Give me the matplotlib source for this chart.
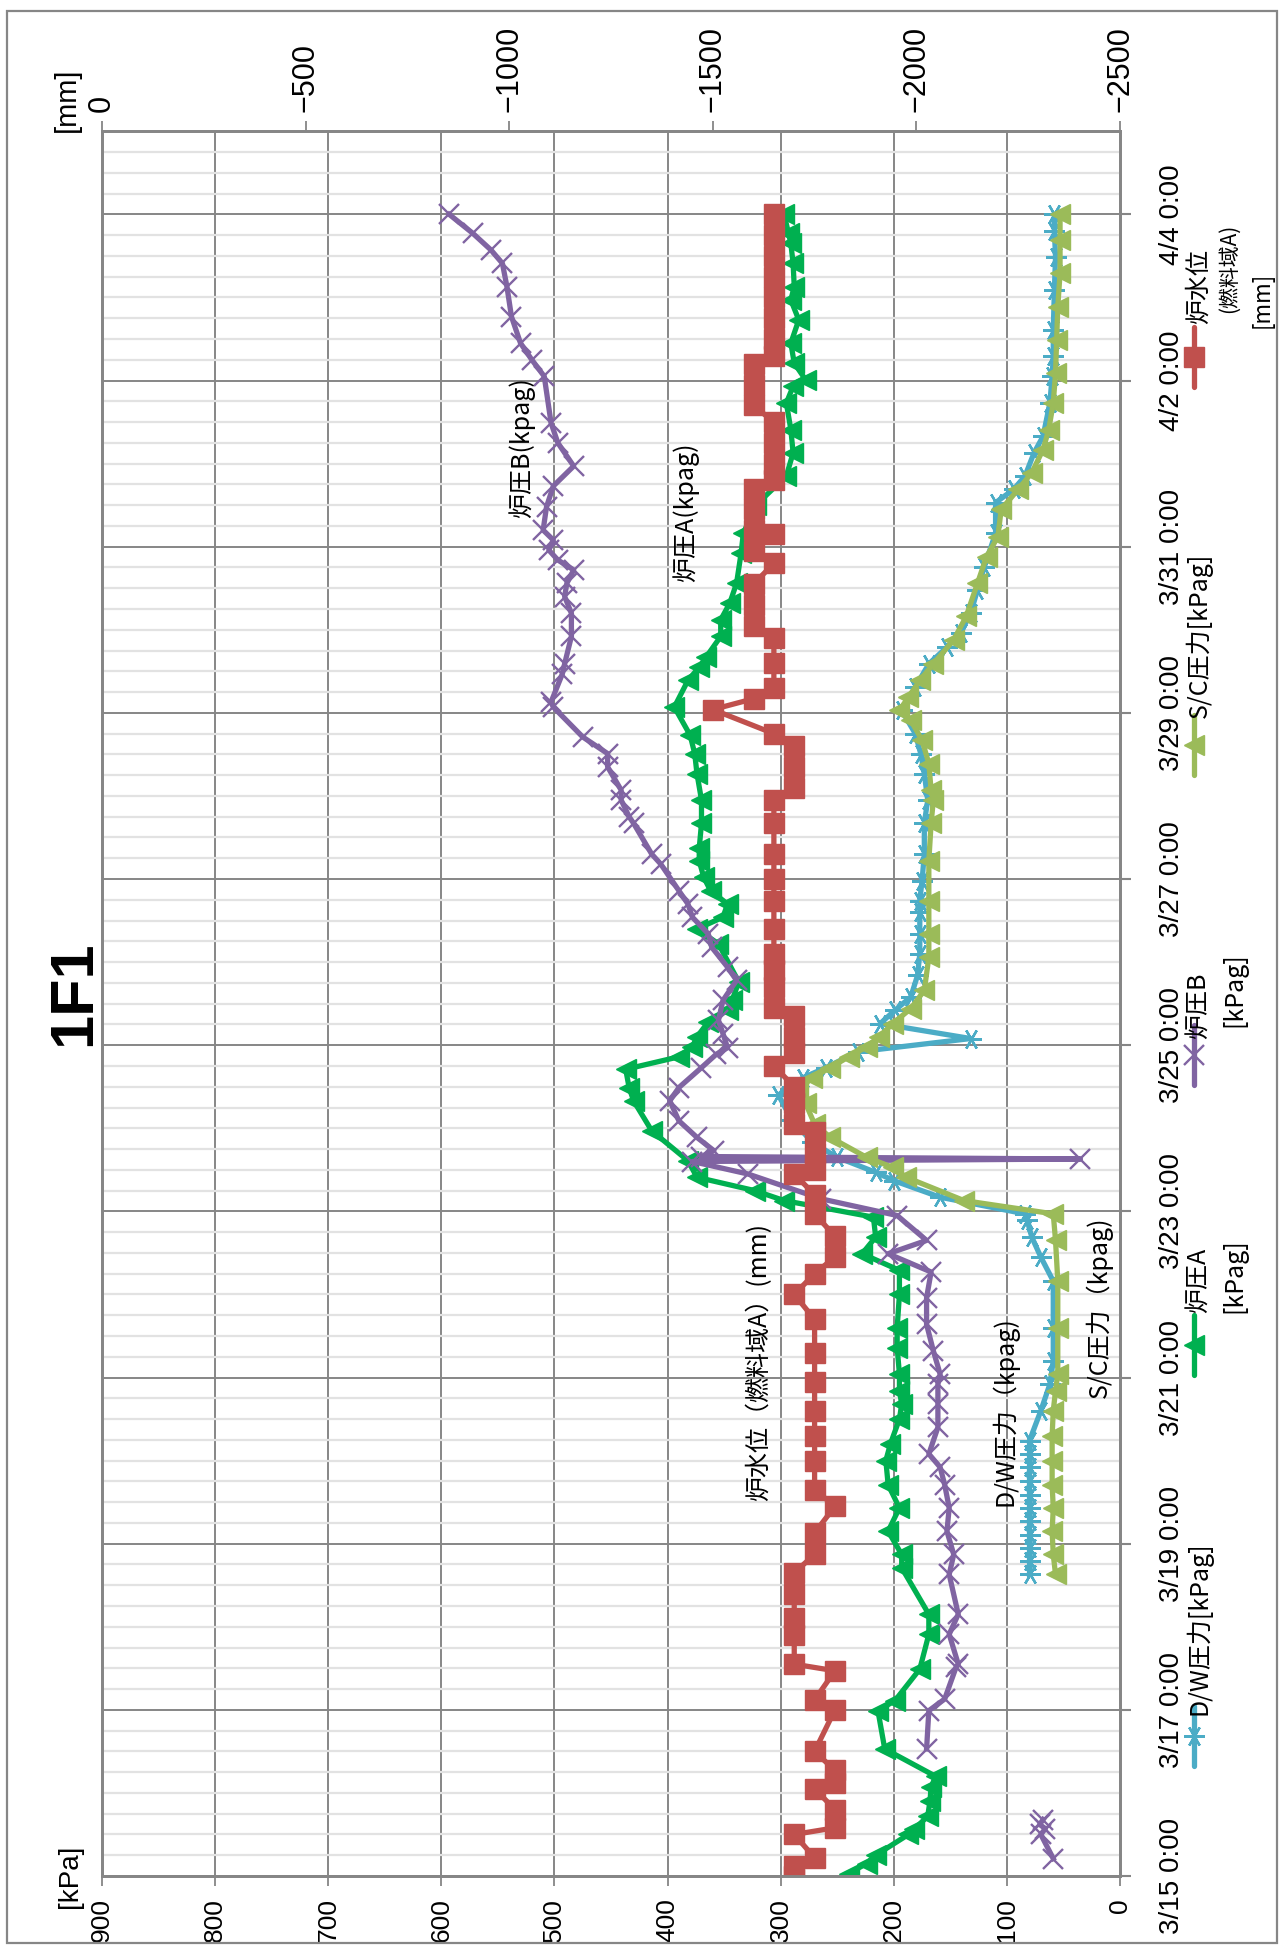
import numpy as np
import pandas as pd
import matplotlib
matplotlib.use("Agg")
import matplotlib.pyplot as plt
import matplotlib.dates as mdates
from matplotlib.ticker import FixedLocator, FuncFormatter
from matplotlib.lines import Line2D
from matplotlib.patches import Rectangle

plt.rcParams['font.family'] = ['Noto Sans CJK JP', 'DejaVu Sans']
NUM_FONT = ['Liberation Sans Narrow', 'Liberation Sans', 'DejaVu Sans']

START = pd.Timestamp('2011-03-15 00:00')

# ---- readings: elapsed days from 3/15 0:00 and values ----
dw_days = [3.63, 3.79, 3.95, 4.11, 4.27, 4.43, 4.59, 4.75, 4.92, 5.08, 5.24, 5.6, 5.92, 6.2,
           6.6, 7.16, 7.45, 7.69, 7.89, 7.97, 8.17, 8.37, 8.47, 8.65, 8.83, 9.1, 9.4, 9.61,
           9.73, 9.92, 10.08, 10.26, 10.42, 10.58, 10.84, 11.1, 11.34, 11.6, 11.74, 11.98,
           12.3, 12.67, 12.95, 13.27, 13.5, 13.75, 14.03, 14.31, 14.59, 14.79, 14.96, 15.2,
           15.48, 15.76, 16.16, 16.53, 16.69, 16.85, 17.13, 17.33, 17.73, 18.05, 18.3, 18.61,
           19.09, 19.49, 19.8, 20.0]
dw_kpa = [80, 80, 80, 80, 80, 80, 80, 80, 80, 80, 80, 70, 62, 59,
          59, 59, 70, 78, 82, 84, 159, 200, 216, 250, 272, 290, 302, 280,
          260, 232, 132, 212, 199, 185, 179, 177, 177, 177, 177, 175,
          173, 173, 170, 173, 176, 181, 193, 181, 169, 153, 141, 132,
          126, 120, 110, 110, 94, 84, 76, 68, 62, 60, 59, 59,
          58, 57, 58, 58]

rpa_days = [0.03, 0.15, 0.25, 0.5, 0.56, 0.72, 0.9, 1.07, 1.2, 1.53, 1.99, 2.11, 2.49, 2.91,
            3.15, 3.71, 3.87, 4.15, 4.43, 4.71, 5.0, 5.2, 5.5, 5.68, 5.84, 6.04, 6.36, 6.6,
            7.0, 7.29, 7.49, 7.69, 7.93, 8.13, 8.25, 8.41, 8.61, 8.97, 9.33, 9.49, 9.71,
            9.86, 9.98, 10.1, 10.28, 10.42, 10.54, 10.76, 11.22, 11.4, 11.54, 11.7, 11.86,
            12.02, 12.22, 12.37, 12.67, 12.95, 13.27, 13.51, 13.73, 14.07, 14.39, 14.55,
            14.67, 14.92, 15.12, 15.32, 15.56, 15.92, 16.16, 16.5, 16.85, 17.13, 17.41,
            17.73, 17.93, 18.01, 18.21, 18.45, 18.73, 18.97, 19.13, 19.41, 19.65, 19.77, 20.0]
rpa_kpa = [240, 224, 216, 187, 182, 170, 168, 167, 163, 208, 214, 199, 177, 169,
           169, 193, 193, 205, 195, 205, 207, 203, 195, 193, 195, 195, 197, 197,
           195, 195, 228, 216, 218, 297, 323, 374, 382, 414, 430, 434, 437,
           390, 378, 374, 364, 347, 343, 337, 355, 374, 351, 347, 362,
           368, 372, 372, 370, 370, 374, 376, 380, 394, 382, 372,
           366, 353, 353, 345, 339, 335, 333, 322, 295, 289, 291,
           295, 289, 278, 288, 291, 284, 291, 288, 289, 291, 293, 297]

rpb_days = [0.21, 0.5, 0.57, 0.62, 0.68, 1.0, 1.53, 1.99, 2.13, 2.51, 2.55, 2.91, 3.15, 3.63,
            3.87, 4.15, 4.43, 4.71, 4.92, 5.08, 5.4, 5.68, 5.92, 6.04, 6.32, 6.64, 6.96,
            7.27, 7.49, 7.65, 7.95, 8.15, 8.45, 8.6, 8.63, 8.66, 8.73, 8.89, 9.09, 9.33,
            9.49, 9.73, 9.89, 9.97, 10.14, 10.3, 10.54, 10.78, 10.94, 11.18, 11.34, 11.54,
            11.7, 11.86, 12.18, 12.3, 12.67, 12.75, 12.95, 13.07, 13.35, 13.51, 13.71, 14.07,
            14.13, 14.47, 14.59, 14.92, 15.2, 15.4, 15.56, 15.72, 15.84, 15.96, 16.08, 16.2,
            16.48, 16.73, 16.97, 17.25, 17.49, 18.05, 18.25, 18.45, 18.77, 19.13, 19.41,
            19.57, 19.77, 20.0]
rpb_kpa = [59, 70, 66, 71, 68, np.nan, 171, 169, 155, 145, 143, 151, 143, 151,
           147, 153, 151, 155, 159, 169, 161, 161, 161, 159, 165, 171, 171,
           167, 205, 171, 197, 264, 329, 378, 35, 370, 359, 374, 390, 398,
           390, 370, 357, 347, 351, 355, 351, 339, 347, 361, 364, 378,
           382, 390, 406, 414, 430, 434, 441, 441, 453, 453, 475, 501,
           503, 493, 491, 485, 485, 491, 489, 483, 497, 505, 501, 510,
           507, 501, 483, 497, 503, 509, 520, 530, 538, 542, 546,
           556, 572, 593]

sc_days = [3.63, 3.87, 4.15, 4.43, 4.71, 5.0, 5.3, 5.6, 5.84, 6.04, 6.6, 7.16, 7.65, 7.97,
           8.13, 8.41, 8.53, 8.65, 8.89, 9.05, 9.3, 9.45, 9.61, 9.73, 9.86, 9.98, 10.1,
           10.26, 10.44, 10.66, 11.06, 11.34, 11.74, 12.22, 12.67, 12.95, 13.07, 13.39,
           13.67, 13.91, 14.03, 14.19, 14.39, 14.59, 14.88, 15.16, 15.56, 15.88, 16.12,
           16.45, 16.69, 16.89, 17.17, 17.41, 17.73, 18.09, 18.49, 18.89, 19.29, 19.69, 20.0]
sc_kpa = [57, 59, 60, 59, 60, 60, 60, 59, 57, 55, 55, 55, 57, 59,
          138, 189, 201, 224, 256, 270, 278, 285, 272, 256, 240, 224, 213,
          201, 185, 173, 169, 169, 169, 169, 167, 165, 167, 169,
          175, 185, 195, 187, 177, 165, 147, 136, 126, 118, 108,
          105, 90, 78, 68, 63, 59, 57, 56, 55, 53, 53, 53]

wl_days = [0.0, 0.12, 0.22, 0.5, 0.58, 0.8, 1.05, 1.12, 1.27, 1.5, 2.0, 2.12, 2.47, 2.55,
           2.9, 3.1, 3.4, 3.65, 3.87, 4.13, 4.45, 4.65, 5.0, 5.3, 5.6, 5.95, 6.3, 6.7,
           7.0, 7.25, 7.45, 7.7, 7.97, 8.2, 8.45, 8.5, 8.7, 8.95, 9.05, 9.3, 9.5, 9.75,
           9.9, 10.1, 10.35, 10.45, 10.7, 10.9, 11.1, 11.4, 11.74, 12.0, 12.3, 12.67,
           12.95, 13.1, 13.35, 13.6, 13.75, 14.04, 14.17, 14.3, 14.6, 14.9, 15.05, 15.3,
           15.55, 15.8, 15.95, 16.15, 16.2, 16.45, 16.7, 16.8, 17.0, 17.25, 17.5, 17.7,
           17.95, 18.2, 18.3, 18.5, 18.75, 19.0, 19.25, 19.5, 19.75, 20.0]
wl_mm = [-1700, -1700, -1750, -1700, -1800, -1800, -1750, -1800, -1800, -1750, -1800, -1750, -1800, -1700,
         -1700, -1700, -1700, -1700, -1750, -1750, -1800, -1750, -1750, -1750, -1750, -1750, -1750, -1750,
         -1700, -1750, -1800, -1800, -1750, -1750, -1700, -1750, -1750, -1750, -1700, -1700, -1700, -1650,
         -1700, -1700, -1700, -1650, -1650, -1650, -1650, -1650, -1650, -1650, -1650, -1650,
         -1650, -1700, -1700, -1700, -1650, -1500, -1600, -1650, -1650, -1650, -1600, -1600,
         -1600, -1650, -1600, -1650, -1600, -1600, -1600, -1650, -1650, -1650, -1650, -1600,
         -1600, -1600, -1650, -1650, -1650, -1650, -1650, -1650, -1650, -1650]

kpa_ticks = list(range(0, 901, 100))
mm_ticks = list(range(0, -2501, -500))
date_tick_days = list(range(0, 21, 2))

COL_DW = '#4BACC6'
COL_RPA = '#00B050'
COL_RPB = '#8064A2'
COL_SC = '#9BBB59'
COL_WL = '#C0504D'
GRID = '#868686'
MINOR = '#e2e2e2'


def to_num(days):
    t = START + pd.to_timedelta(np.asarray(days, dtype=float), unit='D')
    return mdates.date2num(t.values)


W, H = 1279, 1954


def fx(px):
    return px / W


def fy(py):
    return 1 - py / H


fig = plt.figure(figsize=(W / 100, H / 100), dpi=100)
fig.patch.set_facecolor('white')

ax = fig.add_axes([fx(102), fy(1876), fx(1120) - fx(102), fy(131.3) - fy(1876)])
ax.set_axisbelow(True)

STYLES = {
    'dw': dict(color=COL_DW, lw=3.8, marker=(6, 2, 90), ms=15, mew=1.7),
    'rpa': dict(color=COL_RPA, lw=3.8, marker='<', ms=15),
    'rpb': dict(color=COL_RPB, lw=3.8, marker='x', ms=14, mew=1.7),
    'sc': dict(color=COL_SC, lw=3.8, marker='<', ms=15),
    'wl': dict(color=COL_WL, lw=3.8, marker='s', ms=14),
}

ax.plot(dw_kpa, to_num(dw_days), **STYLES['dw'])
ax.plot(rpa_kpa, to_num(rpa_days), **STYLES['rpa'])
ax.plot(rpb_kpa, to_num(rpb_days), **STYLES['rpb'])
ax.plot(sc_kpa, to_num(sc_days), **STYLES['sc'])

ax.set_xlim(900, 0)
ax.set_ylim(to_num([0])[0], to_num([21])[0])

ax.set_xticks(kpa_ticks)
ax.xaxis.tick_bottom()
ax.tick_params(axis='x', direction='out', length=7, width=1.3, color=GRID,
               pad=9, labelrotation=90, labelsize=19)

ax.yaxis.set_major_locator(FixedLocator(to_num(date_tick_days)))
ax.yaxis.set_minor_locator(FixedLocator(to_num(np.arange(0, 21.01, 0.25))))


def fmt_date(v, pos):
    d = mdates.num2date(v)
    return f"{d.month}/{d.day} {d.hour}:{d.minute:02d}"


ax.yaxis.set_major_formatter(FuncFormatter(fmt_date))
ax.yaxis.tick_right()
ax.tick_params(axis='y', which='major', direction='out', length=8, width=1.5,
               color=GRID, pad=20, labelrotation=90, labelsize=20)
ax.tick_params(axis='y', which='minor', length=0)
for lab in ax.get_yticklabels():
    lab.set_va('center')

ax.grid(which='major', axis='both', color=GRID, lw=1.4)
ax.grid(which='minor', axis='y', color=MINOR, lw=1.6)
ax.grid(which='minor', axis='x', visible=False)

for sp in ax.spines.values():
    sp.set_color(GRID)
    sp.set_linewidth(2)

# water level on the secondary (top) axis
ax2 = ax.twiny()
ax2.plot(wl_mm, to_num(wl_days), **STYLES['wl'])
ax2.set_xlim(0, -2500)
ax2.set_xticks(mm_ticks)
ax2.tick_params(axis='x', direction='out', length=7, width=1.3, color=GRID,
                pad=7, labelrotation=90, labelsize=22)
for sp in ax2.spines.values():
    sp.set_color(GRID)
    sp.set_linewidth(2)

for lab in ax.get_xticklabels() + ax2.get_xticklabels() + ax.get_yticklabels():
    lab.set_family(NUM_FONT)

# in-plot series labels
notes = [
    (529, 17.19, '炉圧B(kpag)'),
    (384, 16.42, '炉圧A(kpag)'),
    (318.7, 6.19, '炉水位（燃料域A）(mm)'),
    (101.7, 5.59, 'D/W圧力（kpag)'),
    (18.1, 6.84, 'S/C圧力（kpag)'),
]
for kx, dday, s in notes:
    ax.text(kx, to_num([dday])[0], s, rotation=90, ha='center', va='center', fontsize=18)

# title and unit captions
fig.text(fx(75), fy(993), '1F1', rotation=90, ha='center', va='center',
         fontsize=44, fontweight='bold', family=NUM_FONT)
fig.text(fx(70), fy(1876), '[kPa]', rotation=90, ha='center', va='center', fontsize=20,
         family=NUM_FONT)
fig.text(fx(67), fy(100), '[mm]', rotation=90, ha='center', va='center', fontsize=21,
         family=NUM_FONT)

# legend (rotated with the chart)
legend_items = [
    ('dw', 1736, [(1199, 1628, 'D/W圧力[kPag]', 18)]),
    ('rpa', 1345, [(1199, 1280, '炉圧A', 18), (1234, 1276, '[kPag]', 18)]),
    ('rpb', 1055, [(1199, 1006, '炉圧B', 18), (1234, 990, '[kPag]', 18)]),
    ('sc', 745, [(1199, 635, 'S/C圧力[kPag]', 18)]),
    ('wl', 357, [(1199, 286, '炉水位', 18), (1229, 268, '(燃料域A)', 15), (1262, 300, '[mm]', 16)]),
]
for key, ymark, texts in legend_items:
    st = dict(STYLES[key])
    handle = Line2D([fx(1194)] * 3, [fy(ymark + 30), fy(ymark), fy(ymark - 30)],
                    transform=fig.transFigure, markevery=[1], solid_capstyle='round', **st)
    fig.add_artist(handle)
    for tx, ty, s, fs in texts:
        fig.text(fx(tx), fy(ty), s, rotation=90, ha='center', va='center', fontsize=fs)

# outer frame
fig.add_artist(Rectangle((fx(6.5), fy(1943)), fx(1276.7) - fx(6.5), fy(11) - fy(1943),
                         transform=fig.transFigure, fill=False, edgecolor=GRID, lw=1.6))

fig.savefig('out.png', dpi=100, facecolor='white')
